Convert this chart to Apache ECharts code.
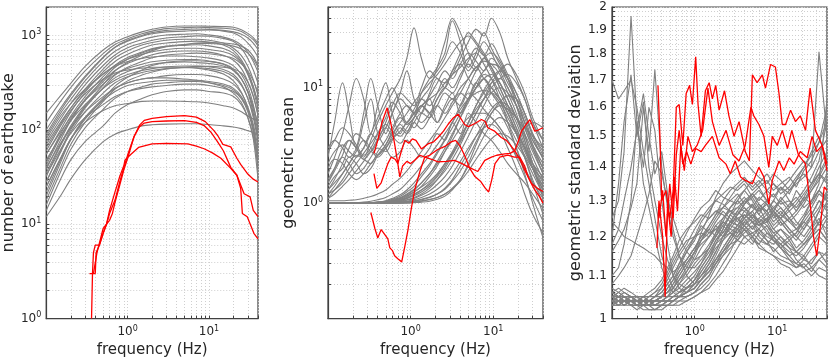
<!DOCTYPE html>
<html>
<head>
<meta charset="utf-8">
<script src="https://cdn.jsdelivr.net/npm/echarts@6/dist/echarts.min.js"></script>
<style>
  html, body { margin: 0; padding: 0; background: #fff; }
  #chart { width: 830px; height: 363px; }
</style>
</head>
<body>
<div id="chart"></div>
<script>
// ---- tick positions (log decades, with 2..9 subdivisions) ----
var freqTicks = [0.1,0.2,0.3,0.4,0.5,0.6,0.7,0.8,0.9,1,2,3,4,5,6,7,8,9,10,20,30,40];
var countTicks = [1,2,3,4,5,6,7,8,9,10,20,30,40,50,60,70,80,90,100,200,300,400,500,600,700,800,900,1000,2000];
var meanTicks = [0.1,0.2,0.3,0.4,0.5,0.6,0.7,0.8,0.9,1,2,3,4,5,6,7,8,9,10,20,30,40,50];
var sdLabels = [1,1.1,1.2,1.3,1.4,1.5,1.6,1.7,1.8,1.9,2];

// ---- panel 1: number of earthquakes ----
var freqCount = [0.1,0.15,0.2,0.3,0.5,0.7,1,1.5,2,3,5,7,10,15,20,25,30,35,40];
var countGray = [
  [150,230,310,470,700,850,970,1090,1160,1230,1260,1260,1250,1240,1220,1150,1050,950,820],
  [120,200,280,420,640,800,920,1040,1110,1180,1210,1220,1210,1190,1160,1100,1000,900,780],
  [100,170,240,370,590,750,870,980,1040,1090,1110,1130,1140,1110,1060,960,830,710,590],
  [85,150,210,330,530,680,800,900,960,1010,1030,1040,1010,960,890,790,660,530,410],
  [75,130,190,300,480,620,740,830,890,940,970,990,980,930,860,730,570,430,310],
  [65,115,170,270,440,580,690,790,840,890,910,910,890,830,730,610,470,340,230],
  [55,100,155,250,410,530,630,730,790,830,860,870,850,790,690,550,410,290,190],
  [45,90,140,225,365,485,585,665,725,765,785,795,775,725,645,525,385,265,165],
  [70,120,170,260,390,480,560,630,670,710,730,730,710,670,610,510,390,280,190],
  [38,78,125,205,325,425,505,575,625,665,685,685,665,615,545,445,325,225,145],
  [55,95,135,205,305,385,445,495,525,545,555,555,535,495,425,345,255,175,115],
  [32,68,105,175,275,355,415,465,495,515,525,515,505,475,425,345,255,165,95],
  [48,85,125,185,275,335,385,425,445,465,475,475,465,435,385,305,215,135,75],
  [28,58,95,155,245,315,365,405,425,445,455,455,445,415,365,295,215,145,85],
  [40,72,105,155,225,275,315,345,355,375,385,385,375,345,305,245,175,115,65],
  [22,48,78,135,205,255,295,315,325,335,335,335,325,305,275,225,165,105,55],
  [33,62,92,135,185,225,255,275,285,295,305,305,295,275,255,215,165,105,48],
  [16,36,62,105,165,215,255,285,305,315,325,325,315,295,265,215,155,95,38],
  [25,50,80,120,160,180,190,200,202,202,200,198,192,180,170,155,140,130,125],
  [14,30,48,75,110,150,185,215,235,255,265,265,255,245,225,185,135,85,42],
  [12,20,30,48,75,90,100,110,113,115,116,116,114,110,107,103,98,94,90],
  [18,40,70,120,200,270,330,380,410,440,460,470,470,460,440,400,320,230,140],
  [28,60,100,170,280,380,460,530,580,620,640,650,640,610,570,500,420,330,250],
  [90,160,230,360,580,750,890,1000,1070,1130,1160,1170,1160,1130,1090,1030,940,830,710],
  [25,50,80,130,210,290,360,430,480,520,540,540,530,500,440,350,250,150,80],
  [60,110,160,240,345,400,430,450,460,460,460,450,430,390,330,250,170,100,50],
  [20,45,80,135,215,275,315,345,355,355,345,335,315,285,245,195,135,80,30],
  [80,140,190,270,390,470,530,570,590,605,605,595,575,535,475,385,285,185,105],
  [42,85,130,210,340,460,560,650,710,770,800,820,820,800,770,720,650,560,460],
  [35,70,110,180,300,420,520,620,690,760,800,830,840,830,810,770,700,600,480]
];
var countRedA = [[0.36,1],[0.37,3],[0.38,5],[0.4,6],[0.45,6],[0.5,8],[0.55,10],[0.6,11],[0.65,13],[0.7,17],[0.8,26],[0.9,38],[1,50],[1.2,85],[1.4,112],[1.6,126],[2,132],[3,138],[5,141],[7,136],[9,122],[11.5,98],[13,85],[14.8,70],[18.5,66],[22,50],[24.5,43],[30,34],[35,30],[40,28]];
var countRedB = [[0.34,3],[0.4,3],[0.41,5],[0.45,6],[0.5,8],[0.55,10],[0.6,13],[0.7,18],[0.8,28],[0.9,40],[1,54],[1.2,85],[1.4,108],[1.6,118],[2,122],[3,124],[5,125],[7,120],[8.7,111],[10.5,95],[12.7,75],[15,60],[18.5,40],[22,33],[24.5,24],[25.7,13],[29.5,12],[35.6,8],[40,7]];
var countRedC = [[0.38,3],[0.42,5],[0.5,9],[0.55,10],[0.6,14],[0.7,22],[0.8,32],[0.9,42],[0.93,48],[1.1,55],[1.36,65],[2,71],[3,72],[5.5,71],[7,67],[8.7,63],[11,57],[14,50],[18.5,39],[22,33],[27,21],[32,19.5],[35,14],[40,12]];

// ---- panel 2: geometric mean ----
var freqMean = [0.1,0.12,0.15,0.18,0.22,0.27,0.33,0.4,0.5,0.6,0.75,0.9,1.1,1.35,1.7,2.1,2.6,3.2,4,5,6.2,7.7,9.5,12,15,19,24,30,40];
var meanGray = [
  [1,1,1,1,1,1,1,1,1.01,1.02,1.04,1.07,1.12,1.2,1.35,1.6,2.0,2.6,3.5,5,7,9,11,12,10,7,4.5,3,1.8],
  [1,1,1,1,1,1,1,1.01,1.02,1.04,1.08,1.14,1.25,1.4,1.7,2.1,2.8,3.8,5.5,8,11,14,16,15,12,8,5,3.2,2],
  [1,1,1,1,1,1,1.01,1.02,1.04,1.08,1.15,1.25,1.4,1.7,2.1,2.7,3.5,4.5,6,8,10,12,13,11,8,5.5,3.5,2.2,1.4],
  [1,1,1,1,1,1,1,1,1,1.01,1.02,1.03,1.05,1.08,1.13,1.2,1.35,1.6,2.1,2.8,3.8,5,6.5,7.5,7,5.5,4,2.8,1.8],
  [1,1,1,1,1,1,1,1,1,1,1.01,1.02,1.03,1.05,1.08,1.12,1.2,1.35,1.6,2.1,2.8,3.8,4.8,5.5,5,4,3,2.2,1.5],
  [1,1,1,1,1.01,1.02,1.04,1.07,1.12,1.2,1.32,1.5,1.75,2.1,2.6,3.2,4,5,6.5,8,9,9.5,9,7.5,5.5,4,2.8,2,1.3],
  [1,1,1,1,1,1,1,1,1,1.01,1.03,1.06,1.1,1.17,1.28,1.45,1.7,2.1,2.8,3.8,5.2,7,9,10,9,7,5,3.5,2.5],
  [1,1,1,1,1,1,1.01,1.02,1.05,1.1,1.18,1.3,1.5,1.8,2.2,2.8,3.6,5,7,10,14,18,20,17,12,7,4,2.2,1.1],
  [1,1,1,1,1,1,1,1.01,1.02,1.05,1.1,1.18,1.3,1.5,1.8,2.2,2.8,3.5,4.5,5.5,6,6,5.5,4.5,3.5,2.5,1.7,1.1,0.7],
  [1,1,1,1,1,1,1,1,1,1,1,1,1.01,1.02,1.04,1.08,1.15,1.3,1.6,2.2,3.2,4.5,6,7,6.5,5.5,4.5,3.8,3],
  [1.05,1.05,1.05,1.06,1.07,1.1,1.14,1.2,1.3,1.45,1.65,1.9,2.3,2.8,3.5,4.3,5.5,7,9,12,15,17,16,13,9,6,3.5,2,1.2],
  [1,1,1,1,1,1,1,1,1.01,1.02,1.05,1.1,1.18,1.3,1.5,1.75,2.2,2.8,3.8,5,6.5,8,10,12,13,11,8,5,3],
  [1,1,1,1,1,1,1,1,1,1.01,1.02,1.04,1.07,1.12,1.2,1.32,1.5,1.8,2.3,3,3.8,4.5,4.8,4.2,3,2,1.2,0.8,0.55],
  [1,1,1,1,1,1,1,1.01,1.03,1.06,1.1,1.16,1.25,1.38,1.55,1.8,2.2,2.7,3.4,4.5,6,8,9,8,6,4,2.5,1.6,1],
  [1,1,1,1,1,1,1,1,1.01,1.03,1.06,1.1,1.16,1.25,1.4,1.6,1.9,2.4,3.2,4.5,6,8,11,14,16,13,9,5.5,3.5],
  [1,1,1,1,1,1,1.01,1.02,1.04,1.07,1.12,1.2,1.32,1.5,1.8,2.3,3,4,5.5,7.5,10,13,12,9,6.5,4.5,3,2,1.3],
  [1,1,1,1,1,1,1,1,1,1,1.01,1.02,1.04,1.07,1.12,1.2,1.32,1.55,1.9,2.5,3.4,4.6,6,7.5,8.5,8,6,4,2.6],
  [1,1,1,1,1,1,1,1.01,1.02,1.04,1.07,1.12,1.2,1.3,1.45,1.7,2.1,2.7,3.6,5,7,9.5,12,14,12,9,6,3.8,2.4],
  [1,1,1,1,1,1,1,1,1,1,1,1.01,1.02,1.04,1.07,1.12,1.2,1.33,1.55,1.9,2.4,3,3.6,4,3.8,3.2,2.5,1.8,1.2],
  [2.5,5,11,6,3,5,8,4,3,2.5,2.8,3.5,3,2.5,3,4,3.5,5,4,6,5,4,3.5,2.8,2.2,1.8,1.5,1.2,0.9],
  [1.8,2.5,4,7,12,8,4,7,11,6,4,5,4.5,6,8,5,7,9,6,8,11,9,7,6,4.5,3,2,1.5,1.1],
  [3,3.5,3,2.5,3,6,12,7,4,6,9,14,8,6,9,12,10,14,16,12,10,12,9,7,5,3.5,2.6,2,1.6],
  [1.5,2,3,3.5,3,2.5,3.5,5,7,9,12,18,33,18,12,14,18,25,20,14,18,25,20,14,10,7,4.5,3,2],
  [2.2,2.8,3.2,2.8,2.5,3,4,3.5,4.5,6,8,7,6,9,12,15,20,38,25,15,20,30,22,16,12,8,5.5,3.5,2.5],
  [1.3,1.6,2.2,3,4,3.5,2.8,3.5,5,7,9,8,7,10,14,12,11,13,18,25,32,28,40,30,18,12,8,5,3.5],
  [1.1,1.3,1.6,2,2.5,3,4,5.5,8,10,7,5,6,8,10,15,25,40,30,20,15,18,14,10,7,5,3.2,2,1.3],
  [1.2,1.4,1.8,2.2,2.6,2.4,2.2,2.8,3.5,4.5,6,7,6,5,6,8,10,14,20,30,25,20,15,10,7,4.5,3,2,1.4],
  [1.6,2,2.5,2.2,1.8,2,2.5,3,2.8,3.5,4.5,4,5,6,5.5,7,9,8,10,12,15,12,10,8,6,4,2.5,1.5,0.8],
  [2,2.4,2.2,1.8,1.6,1.8,2.2,2.6,3,3.6,4.2,5,6,7,8,9,11,13,15,18,20,16,12,8,5,3,1.8,1,0.5],
  [1.4,1.7,2,2.5,2.2,1.8,2,2.6,3.2,4,5,6,7.5,9,11,13,16,20,25,28,24,19,15,11,8,5.5,4.5,5,4.5],
  [1.3,1.5,1.8,2.2,2.8,3.5,3,2.6,3.2,4.2,5.5,5,6.5,8,7,9,12,10,13,17,22,19,24,18,13,9,6,4,2.8],
  [1.1,1.2,1.4,1.6,1.9,2.3,2.8,2.5,3,3.8,4.8,4.2,5.5,7,6,8,10,9,12,16,14,18,15,11,8,5.5,3.8,2.5,1.6],
  [1.5,1.9,2.6,3.5,3,2.4,2.8,3.6,4.5,3.8,3.3,4,5,4.4,5.5,7,6,7.5,9,8,10,12,10,8,6,4.2,3,2.2,1.7],
  [1.2,1.3,1.5,1.8,2.2,2.7,3.3,4,4.8,4.2,3.8,4.5,5.5,6.8,8.5,11,14,12,16,20,17,14,18,15,11,8,5,3.2,2.2],
  [2.8,3.5,4.5,4,3.2,2.6,3,4,5.5,7.5,6,4.8,5.5,7,6,5,6.5,8,7,9,8,6.5,5.5,4.5,3.5,2.6,2,1.5,1.2]
];
var meanRedA = [[0.33,0.83],[0.37,0.6],[0.4,0.5],[0.44,0.59],[0.5,0.52],[0.53,0.49],[0.56,0.41],[0.6,0.39],[0.64,0.35],[0.7,0.33],[0.78,0.31],[0.85,0.42],[0.93,0.59],[1.02,0.9],[1.12,1.3],[1.3,1.9],[1.48,2.5],[1.8,2.4],[2.14,2.28],[2.7,2.3],[3.4,2.35],[4.2,2.2],[4.95,2.06],[6.5,1.88],[7.9,2.35],[9.5,2.5],[11,2.6],[13.8,2.67],[16,2.7],[18.2,2.85],[20,3.4],[22,4.2],[25,4.8],[27.7,5.3],[31.8,4.2],[35,4.3],[40,4.5]];
var meanRedB = [[0.36,2.7],[0.4,3.5],[0.45,5],[0.52,6.7],[0.58,4.8],[0.64,3.26],[0.7,2.2],[0.74,1.69],[0.8,2.1],[0.9,2.3],[1,2.2],[1.12,2.35],[1.3,2.6],[1.48,2.5],[1.7,2.6],[2.1,2.9],[2.6,3.1],[3.1,3.4],[3.5,3.5],[4,3.1],[4.6,2.5],[5.2,2],[6,1.7],[7,1.55],[8,1.35],[8.8,1.25],[9.6,1.6],[10.5,2.2],[12,2.5],[15,2.6],[18,2.5],[21,2.5],[24,2.1],[26.4,1.69],[30,1.4],[31.8,1.3],[36,1.15],[40,1.0]];
var meanRedC = [[0.36,1.8],[0.39,1.34],[0.44,1.5],[0.48,1.8],[0.53,2.2],[0.58,2.5],[0.65,2.4],[0.7,2.2],[0.77,2.8],[0.85,3.5],[0.95,3.3],[1.05,3.6],[1.16,3.5],[1.35,2.95],[1.62,3.26],[1.9,3.4],[2.14,3.7],[2.5,4.2],[2.83,4.8],[3.3,5.5],[3.75,5.9],[4.5,4.8],[5,4.6],[6,4.9],[7.2,5.3],[8,5.1],[8.6,4.5],[10.4,4.2],[12.5,3.7],[14.4,3.5],[16,3.2],[18.2,2.85],[21,2.4],[24,1.93],[29,1.48],[34,1.35],[40,1.26]];

// ---- panel 3: geometric standard deviation ----
var freqSd = [0.1,0.12,0.14,0.17,0.2,0.24,0.28,0.33,0.4,0.47,0.55,0.65,0.8,1,1.2,1.5,1.8,2.2,2.7,3.3,4,5,6,7.5,9,11,14,17,21,26,32,40];
var sdGray = [
  [1.05,1.04,1.05,1.04,1.03,1.04,1.04,1.05,1.06,1.08,1.1,1.13,1.17,1.2,1.22,1.25,1.27,1.28,1.3,1.29,1.31,1.28,1.27,1.29,1.26,1.25,1.27,1.24,1.22,1.26,1.3,1.28],
  [1.04,1.05,1.04,1.03,1.04,1.03,1.03,1.04,1.04,1.05,1.06,1.07,1.09,1.11,1.13,1.16,1.19,1.21,1.24,1.23,1.25,1.22,1.24,1.21,1.2,1.18,1.2,1.17,1.19,1.22,1.25,1.2],
  [1.06,1.05,1.06,1.05,1.04,1.04,1.03,1.03,1.03,1.04,1.04,1.05,1.06,1.07,1.09,1.11,1.14,1.17,1.2,1.22,1.24,1.26,1.23,1.25,1.22,1.24,1.21,1.19,1.22,1.25,1.28,1.33],
  [1.03,1.04,1.03,1.04,1.03,1.03,1.04,1.04,1.05,1.07,1.09,1.12,1.16,1.2,1.24,1.27,1.3,1.32,1.34,1.33,1.35,1.31,1.33,1.3,1.32,1.29,1.3,1.27,1.3,1.33,1.36,1.4],
  [1.05,1.06,1.05,1.04,1.04,1.05,1.04,1.04,1.04,1.05,1.05,1.06,1.07,1.08,1.1,1.12,1.14,1.16,1.18,1.19,1.18,1.2,1.17,1.16,1.15,1.14,1.13,1.12,1.14,1.13,1.16,1.15],
  [1.04,1.03,1.04,1.04,1.03,1.03,1.03,1.03,1.03,1.03,1.04,1.04,1.05,1.06,1.08,1.1,1.13,1.16,1.19,1.22,1.25,1.27,1.29,1.26,1.28,1.3,1.27,1.29,1.32,1.35,1.38,1.36],
  [1.07,1.06,1.07,1.06,1.05,1.05,1.06,1.07,1.09,1.12,1.15,1.19,1.22,1.24,1.26,1.25,1.27,1.26,1.24,1.25,1.23,1.21,1.22,1.2,1.19,1.18,1.16,1.15,1.17,1.2,1.22,1.19],
  [1.03,1.03,1.04,1.03,1.03,1.03,1.02,1.02,1.02,1.03,1.03,1.03,1.04,1.05,1.06,1.08,1.1,1.13,1.16,1.2,1.23,1.25,1.28,1.3,1.27,1.25,1.22,1.2,1.18,1.2,1.24,1.3],
  [1.05,1.05,1.04,1.05,1.04,1.04,1.05,1.06,1.08,1.11,1.14,1.17,1.21,1.25,1.28,1.3,1.33,1.31,1.3,1.32,1.29,1.31,1.28,1.27,1.3,1.34,1.32,1.36,1.38,1.35,1.4,1.45],
  [1.04,1.04,1.03,1.04,1.04,1.03,1.03,1.04,1.05,1.06,1.08,1.11,1.14,1.17,1.19,1.21,1.22,1.24,1.23,1.22,1.2,1.21,1.19,1.18,1.17,1.15,1.14,1.13,1.12,1.14,1.16,1.13],
  [1.06,1.05,1.05,1.04,1.04,1.04,1.03,1.03,1.04,1.04,1.05,1.06,1.08,1.1,1.13,1.17,1.21,1.25,1.28,1.3,1.28,1.26,1.24,1.25,1.22,1.2,1.18,1.16,1.15,1.18,1.21,1.25],
  [1.03,1.04,1.04,1.03,1.03,1.04,1.04,1.05,1.07,1.1,1.13,1.16,1.19,1.2,1.21,1.2,1.22,1.2,1.21,1.23,1.22,1.24,1.25,1.27,1.24,1.26,1.29,1.31,1.28,1.3,1.33,1.31],
  [1.04,1.05,1.05,1.05,1.04,1.04,1.04,1.04,1.04,1.04,1.04,1.05,1.05,1.06,1.07,1.09,1.12,1.15,1.18,1.21,1.24,1.22,1.25,1.23,1.21,1.19,1.17,1.14,1.12,1.1,1.12,1.11],
  [1.05,1.04,1.04,1.04,1.03,1.03,1.03,1.03,1.04,1.05,1.07,1.1,1.13,1.16,1.18,1.2,1.23,1.25,1.27,1.28,1.3,1.32,1.34,1.36,1.33,1.35,1.37,1.34,1.39,1.42,1.48,1.55],
  [1.04,1.04,1.04,1.03,1.03,1.02,1.02,1.02,1.03,1.03,1.04,1.05,1.06,1.08,1.11,1.14,1.17,1.19,1.21,1.2,1.22,1.19,1.18,1.16,1.15,1.13,1.12,1.1,1.11,1.12,1.1,1.09],
  [1.05,1.06,1.05,1.05,1.05,1.05,1.05,1.06,1.07,1.09,1.12,1.15,1.18,1.22,1.25,1.28,1.3,1.29,1.27,1.25,1.26,1.24,1.23,1.25,1.27,1.3,1.33,1.36,1.4,1.45,1.5,1.42],
  [1.04,1.03,1.04,1.04,1.04,1.03,1.04,1.04,1.04,1.05,1.06,1.08,1.11,1.15,1.19,1.23,1.26,1.28,1.27,1.26,1.28,1.25,1.23,1.24,1.21,1.22,1.2,1.21,1.25,1.3,1.35,1.63],
  [1.06,1.07,1.06,1.05,1.05,1.04,1.04,1.04,1.05,1.06,1.07,1.09,1.12,1.16,1.21,1.26,1.31,1.35,1.38,1.4,1.42,1.39,1.37,1.35,1.38,1.36,1.33,1.35,1.37,1.4,1.81,1.5],
  [1.03,1.04,1.05,1.04,1.04,1.03,1.04,1.03,1.03,1.04,1.04,1.05,1.07,1.09,1.12,1.15,1.19,1.22,1.26,1.24,1.27,1.25,1.28,1.24,1.26,1.23,1.25,1.22,1.24,1.27,1.23,1.26],
  [1.05,1.04,1.04,1.05,1.04,1.04,1.04,1.05,1.05,1.06,1.07,1.09,1.11,1.14,1.17,1.2,1.23,1.21,1.24,1.27,1.25,1.29,1.26,1.3,1.27,1.31,1.28,1.33,1.3,1.34,1.38,1.35],
  [1.04,1.03,1.03,1.03,1.02,1.03,1.03,1.02,1.03,1.03,1.03,1.04,1.04,1.05,1.06,1.07,1.09,1.11,1.14,1.17,1.2,1.18,1.21,1.19,1.16,1.18,1.15,1.13,1.15,1.12,1.14,1.16],
  [1.06,1.05,1.04,1.04,1.05,1.04,1.05,1.05,1.06,1.08,1.1,1.13,1.16,1.19,1.23,1.21,1.24,1.27,1.25,1.23,1.26,1.24,1.21,1.23,1.2,1.22,1.19,1.21,1.24,1.22,1.27,1.32],
  [1.04,1.05,1.04,1.04,1.03,1.04,1.03,1.04,1.04,1.04,1.05,1.06,1.07,1.09,1.11,1.14,1.18,1.22,1.26,1.3,1.33,1.3,1.27,1.29,1.25,1.27,1.24,1.26,1.29,1.33,1.37,1.42],
  [1.05,1.05,1.06,1.05,1.04,1.04,1.04,1.04,1.05,1.07,1.09,1.11,1.14,1.17,1.2,1.22,1.2,1.23,1.21,1.19,1.22,1.2,1.18,1.21,1.19,1.17,1.15,1.16,1.14,1.17,1.2,1.18],
  [1.03,1.03,1.04,1.04,1.03,1.03,1.03,1.03,1.03,1.04,1.04,1.05,1.06,1.08,1.1,1.13,1.16,1.2,1.23,1.26,1.29,1.32,1.29,1.27,1.3,1.28,1.25,1.27,1.31,1.29,1.33,1.3],
  [1.05,1.04,1.05,1.05,1.04,1.05,1.04,1.04,1.05,1.05,1.06,1.08,1.1,1.13,1.15,1.18,1.21,1.24,1.22,1.25,1.23,1.26,1.24,1.22,1.19,1.17,1.14,1.12,1.13,1.11,1.14,1.12],
  [1.04,1.04,1.03,1.04,1.04,1.03,1.04,1.04,1.05,1.06,1.08,1.1,1.13,1.16,1.19,1.22,1.25,1.28,1.31,1.34,1.36,1.33,1.35,1.38,1.35,1.33,1.36,1.39,1.42,1.4,1.45,1.49],
  [1.06,1.05,1.05,1.05,1.04,1.04,1.04,1.03,1.04,1.04,1.05,1.05,1.06,1.07,1.09,1.11,1.13,1.15,1.17,1.19,1.21,1.23,1.2,1.18,1.2,1.17,1.19,1.16,1.18,1.21,1.24,1.22],
  [1.7,1.63,1.66,1.7,1.6,1.45,1.35,1.25,1.15,1.1,1.07,1.06,1.07,1.09,1.12,1.15,1.18,1.2,1.22,1.21,1.23,1.2,1.22,1.19,1.18,1.2,1.17,1.16,1.18,1.2,1.22,1.19],
  [1.25,1.3,1.45,1.96,1.55,1.35,1.28,1.2,1.12,1.08,1.06,1.05,1.05,1.06,1.08,1.1,1.13,1.16,1.19,1.22,1.25,1.27,1.24,1.26,1.23,1.25,1.22,1.2,1.23,1.26,1.3,1.27],
  [1.2,1.35,1.55,1.72,1.5,1.62,1.4,1.3,1.2,1.14,1.1,1.08,1.07,1.08,1.1,1.13,1.16,1.2,1.24,1.27,1.3,1.28,1.31,1.29,1.26,1.28,1.25,1.23,1.26,1.3,1.33,1.38],
  [1.16,1.19,1.22,1.28,1.35,1.6,1.45,1.74,1.4,1.28,1.2,1.15,1.12,1.12,1.14,1.17,1.2,1.23,1.26,1.28,1.27,1.29,1.26,1.24,1.27,1.25,1.28,1.3,1.33,1.37,1.42,1.55],
  [1.24,1.22,1.2,1.19,1.18,1.17,1.16,1.15,1.13,1.12,1.11,1.12,1.14,1.17,1.2,1.23,1.26,1.3,1.33,1.35,1.37,1.34,1.36,1.33,1.31,1.34,1.3,1.28,1.31,1.35,1.38,1.43],
  [1.18,1.22,1.3,1.4,1.52,1.65,1.5,1.38,1.45,1.32,1.22,1.15,1.1,1.08,1.09,1.11,1.14,1.17,1.2,1.23,1.26,1.24,1.22,1.25,1.27,1.24,1.21,1.22,1.25,1.28,1.32,1.3],
  [1.1,1.12,1.18,1.3,1.55,1.4,1.6,1.52,1.3,1.18,1.1,1.07,1.06,1.07,1.09,1.12,1.15,1.19,1.23,1.26,1.29,1.32,1.3,1.33,1.35,1.32,1.34,1.37,1.4,1.44,1.48,1.6],
  [1.08,1.1,1.12,1.15,1.2,1.26,1.32,1.42,1.38,1.3,1.25,1.2,1.16,1.14,1.15,1.17,1.2,1.24,1.28,1.31,1.33,1.36,1.34,1.3,1.28,1.26,1.24,1.22,1.2,1.23,1.27,1.25]
];
var sdRedA = [[0.36,1.68],[0.38,1.5],[0.4,1.3],[0.45,1.33],[0.5,1.25],[0.55,1.33],[0.6,1.6],[0.65,1.61],[0.72,1.47],[0.79,1.65],[0.87,1.68],[0.94,1.61],[1.03,1.79],[1.1,1.61],[1.2,1.5],[1.35,1.66],[1.5,1.69],[1.64,1.63],[1.8,1.68],[1.98,1.59],[2.3,1.66],[2.6,1.57],[3,1.5],[3.45,1.55],[4.1,1.45],[4.6,1.42],[5,1.72],[5.7,1.69],[6.6,1.72],[7.2,1.67],[8.3,1.76],[9.5,1.75],[10.5,1.65],[11.5,1.54],[12.6,1.54],[14.5,1.59],[16.6,1.55],[19,1.57],[22,1.52],[25,1.67],[29,1.52],[35,1.47],[40,1.39]];
var sdRedB = [[0.35,1.17],[0.37,1.3],[0.41,1.2],[0.44,1.05],[0.47,1.29],[0.52,1.2],[0.57,1.37],[0.62,1.27],[0.68,1.47],[0.75,1.39],[0.83,1.5],[0.94,1.45],[1.07,1.47],[1.25,1.52],[1.45,1.67],[1.64,1.55],[1.98,1.47],[2.4,1.52],[2.9,1.44],[3.45,1.42],[4.1,1.47],[4.8,1.6],[5.2,1.57],[6,1.54],[6.9,1.5],[7.9,1.4],[8.7,1.5],[10,1.47],[11.5,1.52],[13.3,1.46],[15,1.52],[18,1.44],[22,1.41],[25,1.29],[27.5,1.2],[30,1.15],[33,1.22],[37,1.34],[40,1.33]];
var sdRedC = [[0.37,1.25],[0.41,1.33],[0.45,1.2],[0.5,1.35],[0.55,1.25],[0.6,1.44],[0.65,1.52],[0.72,1.41],[0.8,1.45],[0.9,1.41],[1.03,1.46],[1.2,1.45],[1.35,1.47],[1.64,1.5],[1.98,1.43],[2.4,1.41],[2.7,1.38],[3.1,1.42],[3.6,1.37],[4.1,1.36],[5,1.35],[6,1.4],[6.9,1.37],[7.9,1.29],[8.7,1.36],[10.5,1.42],[12,1.39],[14,1.43],[16,1.41],[19,1.45],[23,1.43],[26.4,1.5],[30,1.45],[35,1.47],[40,1.41]];

var GRAY = '#808080';
var RED = '#ff0000';
var TXT = '#262626';
var FONT = 'DejaVu Sans';

var sdTicks = [];
for (var k = 0; k <= 50; k++) sdTicks.push(+(1 + k * 0.02).toFixed(2));

function pow10(v) {
    var e = Math.round(Math.log(v) / Math.LN10);
    return '{b|10}{s|' + e + '}';
}
var powRich = {
    b: { fontSize: 12, color: TXT, fontFamily: FONT },
    s: { fontSize: 8, color: TXT, fontFamily: FONT, padding: [0, 0, 7, 0] }
};

function grayLines(freqs, rows, gi, smooth) {
    return rows.map(function (r) {
        return {
            type: 'line', xAxisIndex: gi, yAxisIndex: gi, silent: true,
            data: freqs.map(function (f, i) { return [f, r[i]]; }),
            symbol: 'none', smooth: smooth,
            lineStyle: { color: GRAY, width: 1.1 }, z: 2
        };
    });
}
function redLines(list, gi) {
    return list.map(function (d) {
        return {
            type: 'line', xAxisIndex: gi, yAxisIndex: gi, silent: true,
            data: d, symbol: 'none',
            lineStyle: { color: RED, width: 1.3 }, z: 3
        };
    });
}

var titleStyle = { fontSize: 16, color: TXT, fontFamily: FONT };

function xAxis(gi) {
    return {
        type: 'log', logBase: 10, gridIndex: gi, min: 0.1, max: 40,
        name: 'frequency (Hz)', nameLocation: 'middle', nameGap: 23,
        nameTextStyle: { fontSize: 15, color: TXT, fontFamily: FONT },
        axisLine: { show: true, lineStyle: { color: '#404040', width: 1.2 } },
        axisTick: { show: true, inside: true, length: 3, customValues: freqTicks, lineStyle: { color: '#404040' } },
        axisLabel: { customValues: [1, 10], formatter: pow10, rich: powRich, margin: 6 },
        splitLine: { show: true, lineStyle: { color: '#cfcfcf', type: [1, 2], width: 1 } }
    };
}
function yAxisLog(gi, min, max, ticks, labels, name, gap) {
    return {
        type: 'log', logBase: 10, gridIndex: gi, min: min, max: max,
        name: name, nameLocation: 'middle', nameGap: gap,
        nameTextStyle: titleStyle,
        axisLine: { show: true, lineStyle: { color: '#404040', width: 1.2 } },
        axisTick: { show: true, inside: true, length: 3, customValues: ticks, lineStyle: { color: '#404040' } },
        axisLabel: { customValues: labels, formatter: pow10, rich: powRich, margin: 5 },
        splitLine: { show: true, lineStyle: { color: '#cfcfcf', type: [1, 2], width: 1 } }
    };
}

var chart = echarts.init(document.getElementById('chart'), null, { renderer: 'canvas' });
var gridBox = { show: true, borderColor: '#404040', borderWidth: 1.2, top: 7, height: 316, width: 215 };

chart.setOption({
    animation: false,
    backgroundColor: '#fff',
    grid: [
        Object.assign({ left: 43 }, gridBox),
        Object.assign({ left: 328 }, gridBox),
        Object.assign({ left: 612 }, gridBox)
    ],
    xAxis: [xAxis(0), xAxis(1), xAxis(2)],
    yAxis: [
        yAxisLog(0, 1, 2000, countTicks, [1, 10, 100, 1000], 'number of earthquake', 24),
        yAxisLog(1, 0.1, 50, meanTicks, [1, 10], 'geometric mean', 31),
        {
            type: 'log', logBase: 10, gridIndex: 2, min: 1, max: 2,
            name: 'geometric standard deviation', nameLocation: 'middle', nameGap: 20,
            nameTextStyle: titleStyle,
            axisLine: { show: true, lineStyle: { color: '#404040', width: 1.2 } },
            axisTick: { show: true, inside: true, length: 3, customValues: sdTicks, lineStyle: { color: '#404040' } },
            axisLabel: {
                customValues: sdLabels, margin: 5, fontSize: 12, color: TXT, fontFamily: FONT,
                formatter: function (v) { return String(+v.toFixed(1)); }
            },
            splitLine: { show: true, lineStyle: { color: '#cfcfcf', type: [1, 2], width: 1 } }
        }
    ],
    series: [].concat(
        grayLines(freqCount, countGray, 0, 0.3),
        redLines([countRedA, countRedB, countRedC], 0),
        grayLines(freqMean, meanGray, 1, 0.35),
        redLines([meanRedA, meanRedB, meanRedC], 1),
        grayLines(freqSd, sdGray, 2, false),
        redLines([sdRedA, sdRedB, sdRedC], 2)
    )
});
</script>
</body>
</html>
